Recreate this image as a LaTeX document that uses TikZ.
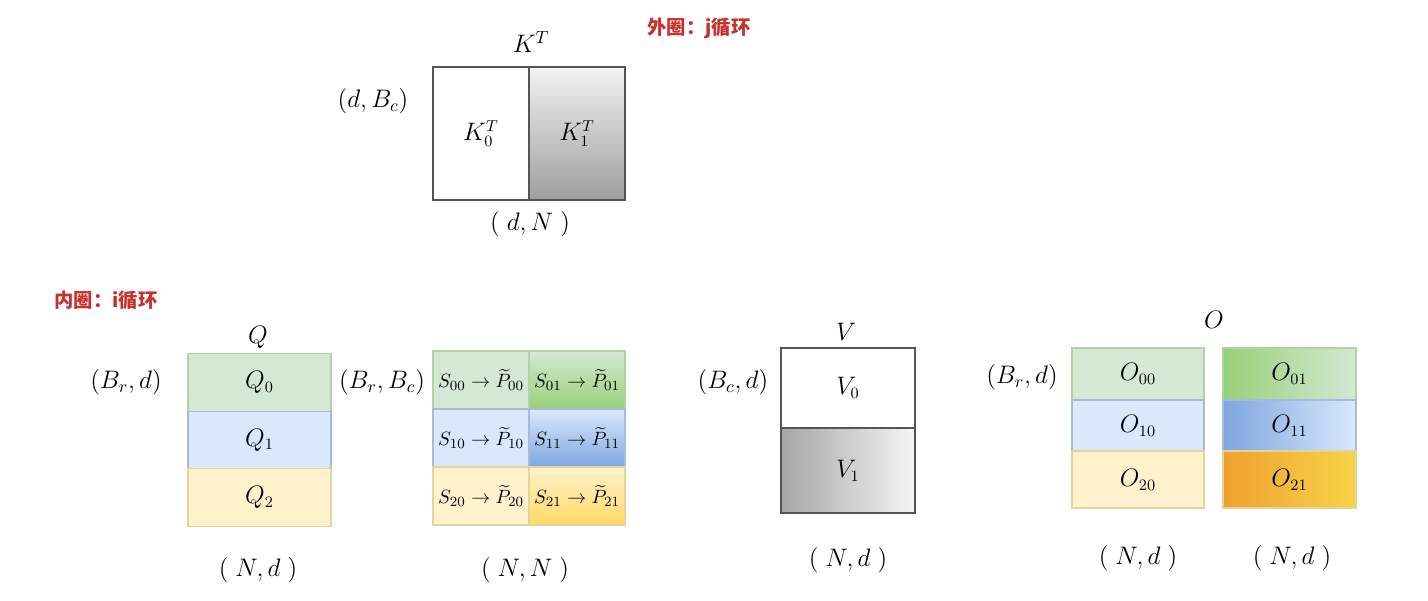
\documentclass[tikz,border=0pt]{standalone}
\usepackage{amsmath,amssymb}
\usepackage{fontspec}
\newfontfamily\cjk{Noto Sans CJK SC}
\usepackage{tikz}
\usetikzlibrary{positioning}
\definecolor{greenlite}{HTML}{D5E8D4}
\definecolor{greenline}{HTML}{82B366}
\definecolor{greendark}{HTML}{97D077}
\definecolor{bluelite}{HTML}{DAE8FC}
\definecolor{blueline}{HTML}{6C8EBF}
\definecolor{bluedark}{HTML}{7EA6E0}
\definecolor{yellowlite}{HTML}{FFF2CC}
\definecolor{yellowline}{HTML}{D6B656}
\definecolor{yellowdark}{HTML}{FFD966}
\definecolor{orangedark}{HTML}{EFA030}
\definecolor{orangelite}{HTML}{F7D448}
\definecolor{loopred}{HTML}{C8302C}
\definecolor{frame}{HTML}{555555}

\begin{document}
\begin{tikzpicture}[x=0.02cm,y=-0.02cm,
    cell/.style={draw,line width=0.6pt,inner sep=0pt,font=\fontsize{13.5}{16}\selectfont},
    scell/.style={cell,font=\fontsize{11}{13}\selectfont},
    tag/.style={inner sep=0pt,font=\fontsize{14.5}{17}\selectfont},
    looptag/.style={inner sep=0pt,text=loopred,font=\cjk\bfseries\fontsize{11}{13}\selectfont}]
  \useasboundingbox (0,0) rectangle (1428,600);
  % outer loop: K^T
  \node[looptag] (outer) at (699,28) {外圈：j循环};
  \node[cell,draw=frame,fill=white,minimum width=1.92cm,minimum height=2.66cm] (k0) at (481,133.5) {$K_0^T$};
  \node[cell,draw=frame,top color=black!5,bottom color=black!38,minimum width=1.92cm,minimum height=2.66cm] (k1) at (577,133.5) {$K_1^T$};
  \node[tag] (ktitle) at (531,42) {$K^T$};
  \node[tag] (kleft) at (373,101) {$(d,B_c)$};
  \node[tag] (kdim) at (530,224) {$(\;d,N\;)$};
  % inner loop: Q
  \node[looptag] (inner) at (106,300) {内圈：i循环};
  \node[tag] (qtitle) at (258,337) {$Q$};
  \node[tag] (qleft) at (126,382) {$(B_r,d)$};
  \node[cell,draw=greenline!60,fill=greenlite,minimum width=2.86cm,minimum height=1.15cm] (q0) at (259.5,382.5) {$Q_0$};
  \node[cell,draw=blueline!60,fill=bluelite,minimum width=2.86cm,minimum height=1.15cm] (q1) at (259.5,440) {$Q_1$};
  \node[cell,draw=yellowline!60,fill=yellowlite,minimum width=2.86cm,minimum height=1.15cm] (q2) at (259.5,497.5) {$Q_2$};
  \node[tag] (qdim) at (258,570) {$(\;N,d\;)$};
  % S -> P tiles
  \node[tag] (sleft) at (382,382) {$(B_r,B_c)$};
  \node[scell,draw=greenline!60,fill=greenlite,minimum width=1.92cm,minimum height=1.16cm] (s00) at (481,380) {$S_{00}\to\widetilde{P}_{00}$};
  \node[scell,draw=greenline!60,top color=greenlite,bottom color=greendark,minimum width=1.92cm,minimum height=1.16cm] (s01) at (577,380) {$S_{01}\to\widetilde{P}_{01}$};
  \node[scell,draw=blueline!60,fill=bluelite,minimum width=1.92cm,minimum height=1.16cm] (s10) at (481,438) {$S_{10}\to\widetilde{P}_{10}$};
  \node[scell,draw=blueline!60,top color=bluelite,bottom color=bluedark,minimum width=1.92cm,minimum height=1.16cm] (s11) at (577,438) {$S_{11}\to\widetilde{P}_{11}$};
  \node[scell,draw=yellowline!60,fill=yellowlite,minimum width=1.92cm,minimum height=1.16cm] (s20) at (481,496) {$S_{20}\to\widetilde{P}_{20}$};
  \node[scell,draw=yellowline!60,top color=yellowlite,bottom color=yellowdark,minimum width=1.92cm,minimum height=1.16cm] (s21) at (577,496) {$S_{21}\to\widetilde{P}_{21}$};
  \node[tag] (sdim) at (525,570) {$(\;N,N\;)$};
  % V
  \node[tag] (vtitle) at (846,332) {$V$};
  \node[tag] (vleft) at (733,382) {$(B_c,d)$};
  \node[cell,draw=frame,fill=white,minimum width=2.68cm,minimum height=1.6cm] (v0) at (848,388) {$V_0$};
  \node[cell,draw=frame,left color=black!35,right color=black!4,minimum width=2.68cm,minimum height=1.7cm] (v1) at (848,470.5) {$V_1$};
  \node[tag] (vdim) at (848,560) {$(\;N,d\;)$};
  % O
  \node[tag] (otitle) at (1214,320) {$O$};
  \node[tag] (oleft) at (1022,377) {$(B_r,d)$};
  \node[cell,draw=greenline!60,fill=greenlite,minimum width=2.64cm,minimum height=1.04cm] (o00) at (1138,374) {$O_{00}$};
  \node[cell,draw=blueline!60,fill=bluelite,minimum width=2.64cm,minimum height=1.02cm] (o10) at (1138,425.5) {$O_{10}$};
  \node[cell,draw=yellowline!60,fill=yellowlite,minimum width=2.64cm,minimum height=1.14cm] (o20) at (1138,479.5) {$O_{20}$};
  \node[cell,draw=greenline!60,left color=greendark,right color=greenlite,minimum width=2.66cm,minimum height=1.04cm] (o01) at (1289.5,374) {$O_{01}$};
  \node[cell,draw=blueline!60,left color=bluedark,right color=bluelite,minimum width=2.66cm,minimum height=1.02cm] (o11) at (1289.5,425.5) {$O_{11}$};
  \node[cell,draw=yellowline!60,left color=orangedark,right color=orangelite,minimum width=2.66cm,minimum height=1.14cm] (o21) at (1289.5,479.5) {$O_{21}$};
  \node[tag] (odimL) at (1138,558) {$(\;N,d\;)$};
  \node[tag] (odimR) at (1292,558) {$(\;N,d\;)$};
\end{tikzpicture}
\end{document}
